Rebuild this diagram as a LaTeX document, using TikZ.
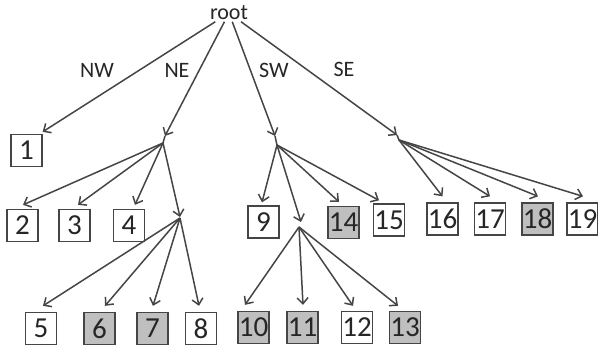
\documentclass[tikz,border=0pt]{standalone}
\usepackage{fontspec}
\setmainfont{Carlito}
\usetikzlibrary{arrows.meta}
\definecolor{ln}{HTML}{454545}
\definecolor{gfill}{HTML}{BFBFBF}
\definecolor{txt}{HTML}{262626}
\begin{document}
\begin{tikzpicture}[x=1pt,y=-1pt,
  box/.style={draw=ln, line width=1.3pt, minimum width=31pt, minimum height=32pt, inner sep=0pt,
    font=\fontsize{29}{29}\selectfont, text=txt},
  gbox/.style={box, fill=gfill},
  arr/.style={draw=ln, line width=1.5pt, -{Straight Barb[length=6pt,width=11pt]}},
  fan/.style={draw=ln, line width=1.5pt},
  lbl/.style={font=\fontsize{22}{22}\selectfont, text=txt, inner sep=1.5pt}]
\useasboundingbox (0,0) rectangle (598,352);

\node[lbl] (root) at (229,13) {root};
\node[lbl] (lnw) at (97,70) {NW};
\node[lbl] (lne) at (177,70) {NE};
\node[lbl] (lsw) at (274,70) {SW};
\node[lbl] (lse) at (344,69) {SE};

\node[box] (b1) at (26.5,150.5) {1};
\node[box] (b2) at (22.5,225.5) {2};
\node[box] (b3) at (74.5,225.5) {3};
\node[box] (b4) at (129,225.5) {4};
\node[box] (b9) at (263.5,222) {9};
\node[gbox] (b14) at (343.5,222.5) {14};
\node[box] (b15) at (389,220) {15};
\node[box] (b16) at (442.5,219) {16};
\node[box] (b17) at (490,219) {17};
\node[gbox] (b18) at (537.5,219) {18};
\node[box] (b19) at (582.5,219) {19};
\node[box] (b5) at (41,328.5) {5};
\node[gbox] (b6) at (99.5,328.5) {6};
\node[gbox] (b7) at (152.5,328.5) {7};
\node[box] (b8) at (201,328.5) {8};
\node[gbox] (b10) at (253.5,327.5) {10};
\node[gbox] (b11) at (302.5,327.5) {11};
\node[box] (b12) at (357,327.5) {12};
\node[gbox] (b13) at (405,327.5) {13};

\coordinate (neIn) at (165,136); \coordinate (ne) at (163,143);
\coordinate (neSubIn) at (180,217); \coordinate (neSub) at (180,218);
\coordinate (swIn) at (275,136); \coordinate (sw) at (277,145);
\coordinate (swSubIn) at (301,222); \coordinate (swSub) at (299,227);
\coordinate (seIn) at (397,135); \coordinate (se) at (399,140);

% root
\draw[arr] (root) -- ([yshift=2pt]b1.north east);
\draw[arr] (root) -- (neIn);
\draw[arr] (root) -- (swIn);
\draw[arr] (root) -- (seIn);
\draw[fan] (neIn) -- (ne);
\draw[fan] (swIn) -- (sw);
\draw[fan] (seIn) -- (se);

% NE
\draw[arr] (ne) -- ([xshift=0.5pt,yshift=4pt]b2.north);
\draw[arr] (ne) -- ([xshift=3.5pt,yshift=4pt]b3.north);
\draw[arr] (ne) -- ([xshift=6pt,yshift=4pt]b4.north);
\draw[arr] (ne) -- (neSubIn);
\draw[arr] (neSub) -- ([xshift=2pt,yshift=6pt]b5.north);
\draw[arr] (neSub) -- ([xshift=5.5pt,yshift=6pt]b6.north);
\draw[arr] (neSub) -- ([xshift=0.5pt,yshift=6pt]b7.north);
\draw[arr] (neSub) -- ([xshift=-2pt,yshift=6pt]b8.north);

% SW
\draw[arr] (sw) -- ([xshift=-1.5pt,yshift=3pt]b9.north);
\draw[arr] (sw) -- (swSubIn);
\draw[arr] (sw) -- ([xshift=-4.5pt,yshift=4pt]b14.north);
\draw[arr] (sw) -- ([xshift=-10pt,yshift=3pt]b15.north);
\draw[arr] (swSub) -- ([xshift=-8.5pt,yshift=6pt]b10.north);
\draw[arr] (swSub) -- ([xshift=0.5pt,yshift=6pt]b11.north);
\draw[arr] (swSub) -- ([xshift=-4pt,yshift=5pt]b12.north);
\draw[arr] (swSub) -- ([xshift=-7pt,yshift=5pt]b13.north);

% SE
\draw[arr] (se) -- ([yshift=6pt]b16.north);
\draw[arr] (se) -- ([yshift=6pt]b17.north);
\draw[arr] (se) -- ([xshift=0.5pt,yshift=6pt]b18.north);
\draw[arr] (se) -- ([xshift=0.5pt,yshift=6pt]b19.north);
\end{tikzpicture}
\end{document}
